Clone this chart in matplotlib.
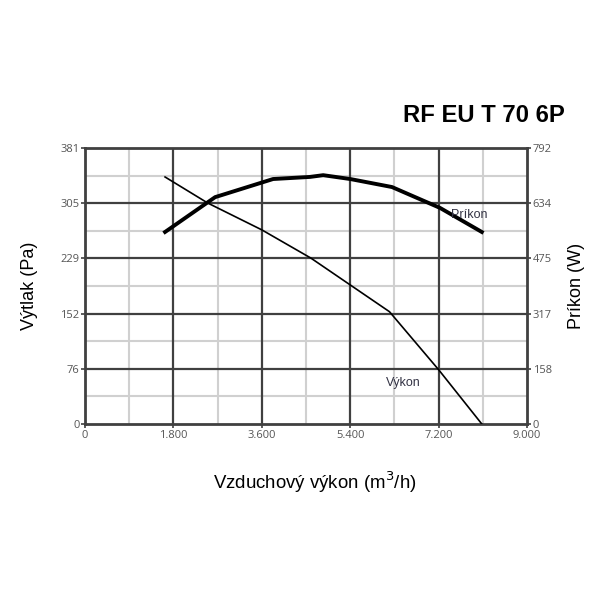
import numpy as np
import matplotlib.pyplot as plt

# curve data
vykon_x = [1630, 2500, 3600, 4600, 5400, 6200, 7200, 8080]
vykon_y = [341, 305, 268, 229, 192, 155, 75, 0]

prikon_x = [1630, 2650, 3830, 4580, 4850, 5400, 6250, 7230, 8080]
prikon_y = [551, 651, 703, 709, 714, 703, 680, 620, 551]

x_ticks = [0, 1800, 3600, 5400, 7200, 9000]
x_labels = ["0", "1.800", "3.600", "5.400", "7.200", "9.000"]
y_ticks = [0, 76, 152, 229, 305, 381]
y2_ticks = [0, 158, 317, 475, 634, 792]

plt.rcParams['font.family'] = ['Liberation Sans', 'DejaVu Sans']

fig = plt.figure(figsize=(6, 6), dpi=100)
ax = fig.add_axes([85/600, 176/600, 442/600, 276/600])
ax.set_xlim(0, 9000)
ax.set_ylim(0, 381)

# minor grid (light) at half steps, major grid (dark)
for i in range(len(x_ticks) - 1):
    ax.axvline((x_ticks[i] + x_ticks[i+1]) / 2, color='#d0d0d0', lw=1.5, zorder=1)
for i in range(len(y_ticks) - 1):
    ax.axhline((y_ticks[i] + y_ticks[i+1]) / 2, color='#d0d0d0', lw=1.5, zorder=1)
for xv in x_ticks[1:-1]:
    ax.axvline(xv, color='#404040', lw=1.6, zorder=2)
for yv in y_ticks[1:-1]:
    ax.axhline(yv, color='#404040', lw=1.6, zorder=2)

tick_font = {'family': ['Open Sans', 'DejaVu Sans'], 'size': 8}

ax.set_xticks(x_ticks)
ax.set_xticklabels(x_labels, fontdict=tick_font)
ax.set_yticks(y_ticks)
ax.set_yticklabels([str(v) for v in y_ticks], fontdict=tick_font)
for s in ax.spines.values():
    s.set_color('#404040')
    s.set_linewidth(2)
ax.tick_params(colors='#404040', labelcolor='#555555',
               length=3, width=1.2, pad=1)

ax.plot(vykon_x, vykon_y, color='black', lw=1.2, zorder=4)

ax2 = ax.twinx()
ax2.set_ylim(0, 792)
ax2.set_yticks(y2_ticks)
ax2.set_yticklabels([str(v) for v in y2_ticks], fontdict=tick_font)
ax2.tick_params(colors='#404040', labelcolor='#555555',
                length=3, width=1.2, pad=1)
for s in ax2.spines.values():
    s.set_visible(False)
ax2.plot(prikon_x, prikon_y, color='black', lw=2.8, zorder=4)

ax.text(6130, 57, "Výkon", fontsize=9, color='#333344', va='center', zorder=5)
ax2.text(7450, 600, "Príkon", fontsize=9, color='#333344', va='center', zorder=5)

ax.set_ylabel("Výtlak (Pa)", fontsize=13, labelpad=16)
ax2.set_ylabel("Príkon (W)", fontsize=13, labelpad=12)
ax.set_xlabel("Vzduchový výkon (m$^3$/h)", fontsize=13.4)
ax.xaxis.set_label_coords(0.52, -0.165)

fig.text(565/600, 1 - 115/600, "RF EU T 70 6P", fontsize=17.2, fontweight='bold',
         ha='right', va='center')

fig.savefig("out.png", dpi=100)
